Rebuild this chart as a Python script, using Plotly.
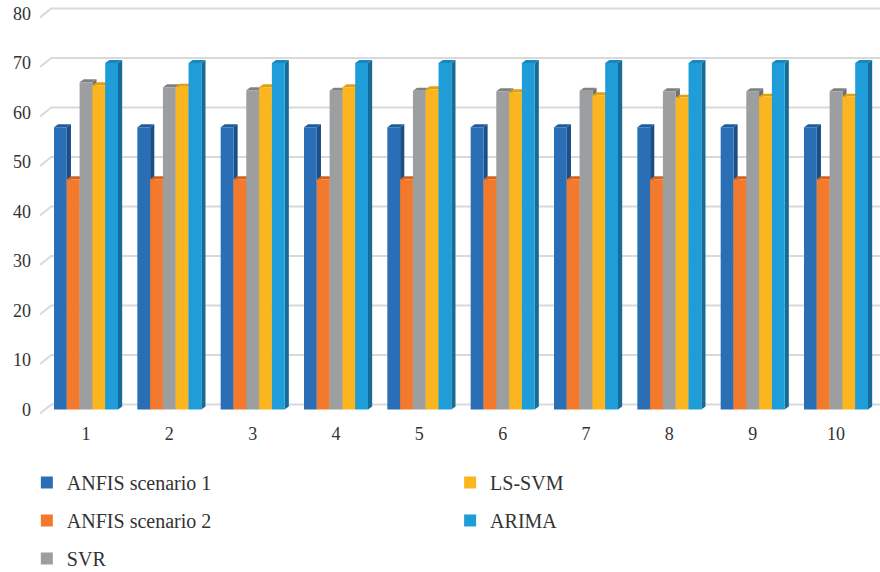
import plotly.graph_objects as go

# ---- data ----
groups = [1, 2, 3, 4, 5, 6, 7, 8, 9, 10]
series_names = ["ANFIS scenario 1", "ANFIS scenario 2", "SVR", "LS-SVM", "ARIMA"]
anfis1 = [57, 57, 57, 57, 57, 57, 57, 57, 57, 57]
anfis2 = [46.5, 46.5, 46.5, 46.5, 46.5, 46.5, 46.5, 46.5, 46.5, 46.5]
svr = [66.1, 65.1, 64.5, 64.4, 64.4, 64.3, 64.4, 64.3, 64.3, 64.3]
lssvm = [65.5, 65.2, 65.1, 65.1, 64.7, 64.1, 63.5, 63.0, 63.2, 63.2]
arima = [70, 70, 70, 70, 70, 70, 70, 70, 70, 70]
y_ticks = [0, 10, 20, 30, 40, 50, 60, 70, 80]

# ---- style ----
front = ["#2A6FB6", "#F37A2C", "#9C9EA0", "#FBB51E", "#1E9DD8"]
side = ["#1B4E86", "#B5561A", "#6E7072", "#C48A0E", "#166C97"]
top = ["#1F5C9E", "#D3641F", "#7F8183", "#E0A010", "#1987BE"]
FONT = "Liberation Serif"
TXT = "#333333"

bar_w = 0.1536            # front-face width of one bar (x units)
n = len(series_names)
dx, dy = 0.05, 0.6        # bar depth offsets (x units, y units)
wall_dx, wall_dy = 0.135, 1.0   # back-wall offset for gridlines
x_min, x_max = 0.448, 10.528
y_min, y_max = -1.5, 81.5

fig = go.Figure()
shapes = []
all_vals = [anfis1, anfis2, svr, lssvm, arima]
for s, (name, vals) in enumerate(zip(series_names, all_vals)):
    off = -n * bar_w / 2 + s * bar_w
    fig.add_trace(go.Bar(
        x=groups, y=vals, name=name, offset=off, width=bar_w,
        marker=dict(color=front[s], line=dict(width=0)),
        legend="legend" if s in (0, 1, 2) else "legend2",
        legendgroup=name, hoverinfo="x+y+name",
    ))
    # depth faces (side and top) for each bar, from the same values
    for g, v in zip(groups, vals):
        xl = g + off
        xr = xl + bar_w
        shapes.append(dict(
            type="path", xref="x", yref="y", layer="between",
            path=f"M{xr},0 L{xr+dx},{dy} L{xr+dx},{v+dy} L{xr},{v} Z",
            fillcolor=side[s], line=dict(width=0)))
        shapes.append(dict(
            type="path", xref="x", yref="y", layer="between",
            path=f"M{xl},{v} L{xl+dx},{v+dy} L{xr+dx},{v+dy} L{xr},{v} Z",
            fillcolor=top[s], line=dict(width=0)))

# back-wall gridlines with a short floor diagonal at the left
for t in y_ticks:
    shapes.append(dict(
        type="path", xref="x", yref="y", layer="below",
        path=f"M{x_min},{t - 0.8} L{x_min + wall_dx},{t + wall_dy} L{x_max},{t + wall_dy}",
        line=dict(color="#D9D9D9", width=2)))

legend_style = dict(
    xref="container", yref="container", xanchor="left", yanchor="top",
    orientation="v", tracegroupgap=9,
    font=dict(family=FONT, size=20, color=TXT),
    bgcolor="rgba(0,0,0,0)",
)

fig.update_layout(
    width=880, height=572,
    margin=dict(l=40, r=0, t=6, b=154.6, autoexpand=False),
    paper_bgcolor="white", plot_bgcolor="white",
    barmode="overlay",
    shapes=shapes,
    font=dict(family=FONT, size=18, color=TXT),
    xaxis=dict(range=[x_min, x_max], tickmode="array", tickvals=groups,
               ticktext=[str(g) for g in groups], showgrid=False,
               zeroline=False, showline=False, ticks="", automargin=False,
               ticklabelstandoff=4, tickfont=dict(family=FONT, size=18, color=TXT)),
    yaxis=dict(range=[y_min, y_max], tickmode="array", tickvals=y_ticks,
               showgrid=False, zeroline=False, showline=False, ticks="", automargin=False,
               ticklabelstandoff=8, tickfont=dict(family=FONT, size=18, color=TXT)),
    legend=dict(x=0.0305, y=0.1906, **legend_style),
    legend2=dict(x=0.5115, y=0.1906, **legend_style),
)

fig.write_html("out.html")
